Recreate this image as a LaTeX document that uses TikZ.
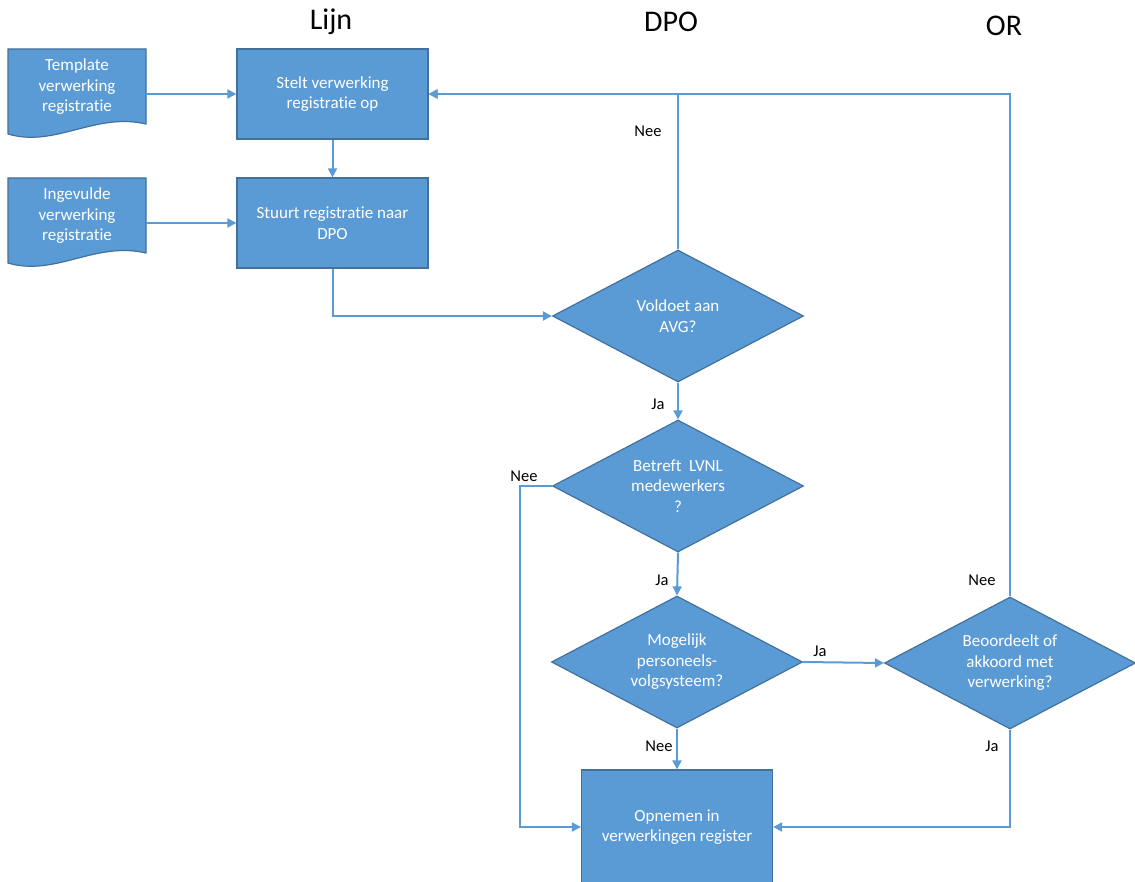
\documentclass[tikz,border=0pt]{standalone}
\usepackage{fontspec}
\setmainfont{Carlito}[Ligatures=NoCommon]
\usetikzlibrary{shapes.geometric,arrows.meta,calc}
\definecolor{fillblue}{HTML}{5B9BD5}
\definecolor{edgeblue}{HTML}{41719C}
\begin{document}
\begin{tikzpicture}[x=1pt,y=-1pt,
  txt/.style={text=white,font=\fontsize{17}{20.5}\selectfont,align=center},
  procbox/.style={txt,rectangle,fill=fillblue,draw=edgeblue,line width=1.2pt,minimum width=191pt,minimum height=90pt,inner sep=0pt},
  decision/.style={txt,diamond,fill=fillblue,draw=edgeblue,line width=1.2pt,minimum width=251pt,minimum height=132pt,inner sep=0pt,aspect=1.9},
  docnode/.style={txt,rectangle,minimum width=138pt,minimum height=76pt,inner sep=0pt},
  docshape/.style={fill=fillblue,draw=edgeblue,line width=1.2pt},
  flow/.style={draw=fillblue,line width=2pt,-{Triangle[length=9pt,width=9pt]}},
  lbl/.style={font=\fontsize{16.5}{18}\selectfont,text=black,inner sep=0pt},
  hdr/.style={font=\fontsize{30}{34}\selectfont,text=black,inner sep=0pt}]
\useasboundingbox (0,0) rectangle (1135,882);
\begin{scope}
\clip (0,0) rectangle (1135,882);
% headers
\node[hdr] (hl) at (331,22) {Lijn};
\node[hdr] (hd) at (671,22) {DPO};
\node[hdr] (ho) at (1004,26) {OR};
% document shapes
\fill[docshape] (8,49) -- (146,49) -- (146,124) .. controls (95,112) and (55,148) .. (8,134) -- cycle;
\node[docnode] (t1) at (77,87) {Template\\verwerking\\registratie};
\fill[docshape] (8,178) -- (146,178) -- (146,253) .. controls (95,241) and (55,277) .. (8,263) -- cycle;
\node[docnode] (t2) at (77,216) {Ingevulde\\verwerking\\registratie};
% process boxes
\node[procbox] (b1) at (332.5,94) {Stelt verwerking\\registratie op};
\node[procbox] (b2) at (332.5,223) {Stuurt registratie naar\\DPO};
\node[procbox,minimum height=114pt] (b3) at (677,827) {Opnemen in\\verwerkingen register};
% decisions
\node[decision] (d1) at (678,316) {Voldoet aan\\AVG?};
\node[decision] (d2) at (678,486) {Betreft\ \ LVNL\\medewerkers\\?};
\node[decision] (d3) at (677,662) {Mogelijk\\personeels-\\volgsysteem?};
\node[decision] (d4) at (1010,663) {Beoordeelt of\\akkoord met\\verwerking?};
% connectors
\draw[flow] (b1.west -| t1.east) -- (b1.west);
\draw[flow] (b2.west -| t2.east) -- (b2.west);
\draw[flow] (b1) -- (b2);
\draw[flow] (b2.south) |- (d1.west);
\draw[flow] (d1.north) |- (b1.east);
\draw[flow] (d4.north) |- (b1.east);
\draw[flow] (d1.south) -- (d2.north);
\draw[flow] (d2.west) -- ++(-32,0) |- (b3.west);
\draw[flow] (d2.south) -- (d3.north);
\draw[flow] (d3.east) -- (d4.west);
\draw[flow] (d3.south) -- (b3.north);
\draw[flow] (d4.south) |- (b3.east);
% labels
\node[lbl] (l1) at (648,131) {Nee};
\node[lbl] (l2) at (658,404) {Ja};
\node[lbl] (l3) at (524,476) {Nee};
\node[lbl] (l4) at (662,580) {Ja};
\node[lbl] (l5) at (820,651) {Ja};
\node[lbl] (l6) at (659,746) {Nee};
\node[lbl] (l7) at (982,580) {Nee};
\node[lbl] (l8) at (992,746) {Ja};
\end{scope}
\end{tikzpicture}
\end{document}
